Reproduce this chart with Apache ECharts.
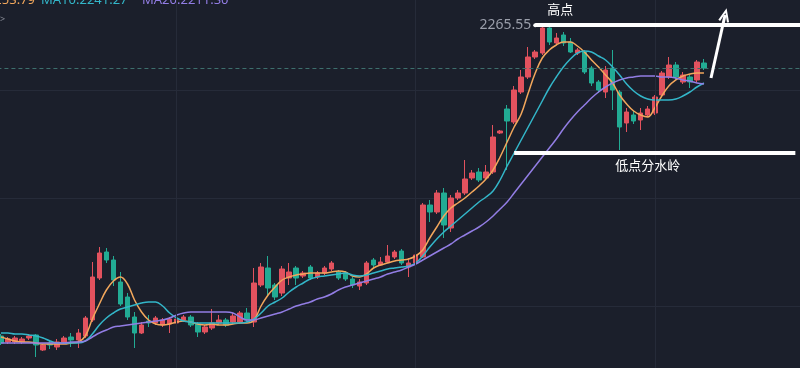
<!DOCTYPE html>
<html>
<head>
<meta charset="utf-8">
<script src="https://cdn.jsdelivr.net/npm/echarts@6/dist/echarts.min.js"></script>
<style>
html,body{margin:0;padding:0;background:#1b1f2b;}
#c{width:800px;height:368px;}
</style>
</head>
<body>
<div id="c"></div>
<script>
// ---------- data ----------
const opens = [1644,1632,1632,1632,1640,1646,1616,1630,1622,1632,
 1642,1636,1644,1676,1760,1812,1796,1752,1722,1682,
 1650,1674,1670,1666,1668,1670,1676,1682,1668,1652,
 1660,1670,1676,1672,1672,1690,1672,1746,1780,1746,
 1730,1760,1780,1764,1782,1762,1770,1778,1772,1770,
 1758,1744,1750,1796,1786,1792,1802,1814,1782,1790,
 1802,1906,1892,1930,1860,1920,1930,1960,1972,1960,
 1972,2050,2098,2072,2132,2162,2202,2210,2260,2230,
 2246,2232,2210,2212,2180,2152,2132,2180,2132,2070,
 2086,2076,2086,2090,2126,2162,2186,2152,2162,2156,
 2190];
const closes = [1630,1638,1640,1638,1644,1626,1626,1626,1632,1640,
 1636,1650,1680,1762,1810,1796,1756,1708,1682,1650,
 1666,1670,1680,1676,1678,1678,1682,1666,1652,1662,
 1670,1676,1666,1684,1690,1676,1750,1782,1740,1722,
 1778,1772,1760,1770,1760,1770,1780,1790,1760,1758,
 1746,1752,1790,1786,1792,1804,1812,1790,1790,1806,
 1906,1892,1930,1866,1920,1930,1958,1970,1956,1972,
 2042,2054,2074,2136,2162,2202,2212,2260,2232,2240,
 2230,2212,2216,2172,2150,2136,2176,2136,2062,2092,
 2074,2090,2098,2122,2170,2186,2162,2166,2152,2192,
 2180];
const lows = [1626,1628,1628,1628,1636,1602,1614,1618,1616,1628,
 1622,1620,1640,1672,1756,1790,1744,1704,1676,1620,
 1648,1662,1666,1662,1650,1666,1672,1662,1642,1648,
 1656,1666,1662,1668,1668,1672,1662,1742,1726,1716,
 1724,1746,1746,1760,1756,1758,1766,1774,1756,1754,
 1740,1736,1746,1780,1784,1790,1798,1786,1762,1786,
 1800,1872,1888,1840,1852,1916,1926,1956,1952,1956,
 1968,2048,1976,2068,2128,2158,2198,2206,2226,2226,
 2224,2210,2206,2168,2144,2130,2120,2096,2016,2052,
 2068,2056,2082,2086,2122,2158,2156,2148,2140,2152,
 2176];
const highs = [1648,1642,1644,1642,1648,1648,1628,1636,1638,1644,
 1650,1658,1684,1792,1822,1820,1804,1772,1730,1692,
 1672,1686,1684,1680,1682,1682,1686,1686,1672,1666,
 1698,1686,1680,1690,1694,1700,1780,1790,1804,1750,
 1784,1790,1784,1774,1786,1774,1784,1794,1776,1774,
 1762,1758,1794,1800,1802,1826,1816,1818,1800,1810,
 1910,1916,1936,1940,1926,1936,1996,1976,1980,1986,
 2066,2056,2106,2144,2176,2222,2216,2265.55,2264,2250,
 2252,2240,2220,2216,2184,2156,2184,2216,2136,2100,
 2094,2100,2104,2126,2174,2202,2192,2172,2166,2196,
 2198];
const ma5 = [1642,1638,1634,1632,1632,1630,1628,1628,1628,1628,
 1630,1632,1644,1678,1708,1736,1754,1762,1748,1716,
 1692,1676,1668,1666,1668,1672,1674,1672,1668,1666,
 1668,1666,1666,1668,1670,1670,1676,1704,1726,1742,
 1756,1762,1766,1768,1770,1770,1770,1772,1774,1772,
 1764,1762,1768,1780,1786,1790,1794,1796,1798,1804,
 1816,1840,1862,1884,1900,1910,1920,1932,1944,1958,
 1976,2002,2032,2062,2088,2130,2170,2200,2216,2226,
 2232,2232,2224,2212,2196,2182,2166,2150,2126,2108,
 2094,2086,2082,2100,2124,2144,2156,2164,2168,2170,
 2170];
const ma10 = [1650,1650,1648,1648,1646,1644,1640,1634,1630,1630,
 1630,1630,1634,1648,1666,1680,1690,1698,1702,1706,
 1710,1712,1712,1704,1690,1680,1674,1672,1670,1670,
 1670,1670,1670,1670,1670,1672,1678,1690,1704,1712,
 1720,1732,1742,1750,1758,1762,1764,1766,1768,1770,
 1766,1764,1766,1770,1774,1778,1780,1782,1784,1790,
 1804,1822,1838,1852,1864,1876,1888,1900,1912,1922,
 1934,1956,1984,2010,2036,2062,2088,2114,2140,2162,
 2182,2198,2210,2214,2212,2204,2196,2182,2166,2148,
 2134,2124,2118,2116,2116,2116,2118,2124,2132,2142,
 2150];
const ma20 = [1630,1630,1630,1630,1630,1630,1630,1630,1630,1630,
 1632,1632,1634,1642,1650,1656,1662,1664,1666,1668,
 1670,1672,1674,1676,1680,1686,1690,1692,1692,1692,
 1692,1692,1692,1690,1682,1676,1676,1680,1684,1688,
 1692,1698,1704,1708,1712,1718,1722,1728,1736,1742,
 1746,1750,1754,1758,1762,1768,1772,1776,1782,1788,
 1796,1804,1812,1820,1828,1838,1846,1854,1862,1872,
 1884,1898,1912,1930,1948,1966,1984,2002,2020,2038,
 2058,2076,2092,2106,2120,2132,2142,2150,2156,2160,
 2162,2164,2164,2164,2162,2162,2160,2156,2154,2150,
 2148];
const slotCount = 115;
const categories = Array.from({length: slotCount}, (_, i) => 'K' + (i + 1));
const gridLineSlots = [25, 59, 93];
const legendTexts = ['MA5:2253.79', 'MA10:2241.27', 'MA20:2211.30'];
const highLabel = '2265.55';
const watershedLevel = 2010;
const highLineSlots = [76, 114];
const watershedSlots = [73, 113];
const arrowFrom = [101, 2160];
const arrowTo = [103, 2286];
const highTextAt = [79, 2298];
const watershedTextAt = [92, 1986];

// ---------- chart ----------
const UP = '#e2525e', DOWN = '#22ab94';
const C5 = '#f2a75c', C10 = '#33b6c9', C20 = '#927de4';
const GRID = '#262b39';
const FONT = '"Noto Sans", "Noto Sans CJK SC", sans-serif';
const candleData = opens.map((o, i) => [o, closes[i], lows[i], highs[i]]);
const highLevel = Math.max.apply(null, highs);
const lastClose = closes[closes.length - 1];

const chart = echarts.init(document.getElementById('c'));
chart.setOption({
  backgroundColor: '#1b1f2b',
  animation: false,
  grid: {left: -2.57, right: -5.9, top: -18, bottom: -46, containLabel: false, outerBoundsMode: 'none'},
  xAxis: {type: 'category', data: categories, boundaryGap: true,
    axisLine: {show: false}, axisTick: {show: false}, axisLabel: {show: false}, splitLine: {show: false}},
  yAxis: {type: 'value', min: 1488, max: 2352, interval: 216,
    axisLine: {show: false}, axisTick: {show: false}, axisLabel: {show: false},
    splitLine: {show: true, lineStyle: {color: GRID, width: 1}}},
  series: [
    {type: 'line', data: [], z: 1, silent: true,
     markLine: {silent: true, symbol: ['none', 'none'], animation: false, label: {show: false},
       lineStyle: {color: GRID, width: 1, type: 'solid'},
       data: gridLineSlots.map(s => ({xAxis: s}))}},
    {type: 'line', data: [], z: 2, silent: true,
     markLine: {silent: true, symbol: ['none', 'none'], animation: false, label: {show: false},
       lineStyle: {color: '#3d6f6d', width: 1, type: [4, 3]},
       data: [{yAxis: lastClose}]}},
    {type: 'candlestick', data: candleData, barWidth: 5, z: 3,
     itemStyle: {color: UP, color0: DOWN, borderColor: UP, borderColor0: DOWN, borderWidth: 1}},
    {type: 'line', data: ma5, smooth: 0.4, showSymbol: false, z: 4, lineStyle: {color: C5, width: 1.5}},
    {type: 'line', data: ma10, smooth: 0.4, showSymbol: false, z: 4, lineStyle: {color: C10, width: 1.5}},
    {type: 'line', data: ma20, smooth: 0.4, showSymbol: false, z: 4, lineStyle: {color: C20, width: 1.5}},
    {type: 'line', data: [], z: 10, silent: true,
     markLine: {silent: true, animation: false, symbol: ['none', 'none'], symbolSize: 4,
       data: [
         [{coord: [highLineSlots[0], highLevel], symbol: 'circle', symbolSize: 4,
           lineStyle: {color: '#ffffff', width: 4, type: 'solid'},
           label: {show: true, position: 'start', formatter: highLabel, color: '#9a9eaa',
             fontSize: 14, fontFamily: FONT, distance: 4}},
          {coord: [highLineSlots[1], highLevel], symbol: 'none', symbolSize: 4}],
         [{coord: [watershedSlots[0], watershedLevel], symbol: 'none', symbolSize: 4,
           lineStyle: {color: '#ffffff', width: 4, type: 'solid'}, label: {show: false}},
          {coord: [watershedSlots[1], watershedLevel], symbol: 'none', symbolSize: 4}],
         [{coord: arrowFrom, symbol: 'none', symbolSize: 4,
           lineStyle: {color: '#ffffff', width: 3, type: 'solid'}, label: {show: false}},
          {coord: arrowTo, symbol: 'path://M5,0 L10,12 L8.2,12.8 L5,4.6 L1.8,12.8 L0,12 Z',
           symbolSize: [11, 14], itemStyle: {color: '#ffffff'}}]
       ]},
     markPoint: {silent: true, animation: false, symbol: 'circle', symbolSize: 1,
       itemStyle: {color: 'rgba(0,0,0,0)'},
       label: {show: true, position: 'inside', formatter: '{b}', color: '#ffffff',
         fontSize: 13, fontFamily: '"Noto Sans CJK SC", sans-serif'},
       data: [
         {name: '高点', coord: highTextAt, label: {offset: [4, 0]}},
         {name: '低点分水岭', coord: watershedTextAt}
       ]}}
  ],
  graphic: [
    {type: 'text', x: 35, y: 7, silent: true,
     style: {text: legendTexts[0], fill: C5, font: '13px ' + FONT, align: 'right', verticalAlign: 'bottom'}},
    {type: 'text', x: 41, y: 7, silent: true,
     style: {text: legendTexts[1], fill: C10, font: '13px ' + FONT, align: 'left', verticalAlign: 'bottom'}},
    {type: 'text', x: 142, y: 7, silent: true,
     style: {text: legendTexts[2], fill: C20, font: '13px ' + FONT, align: 'left', verticalAlign: 'bottom'}},
    {type: 'text', x: 0, y: 19, silent: true,
     style: {text: '>', fill: '#8a8e99', font: '9px ' + FONT, align: 'left', verticalAlign: 'middle'}}
  ]
});
</script>
</body>
</html>
